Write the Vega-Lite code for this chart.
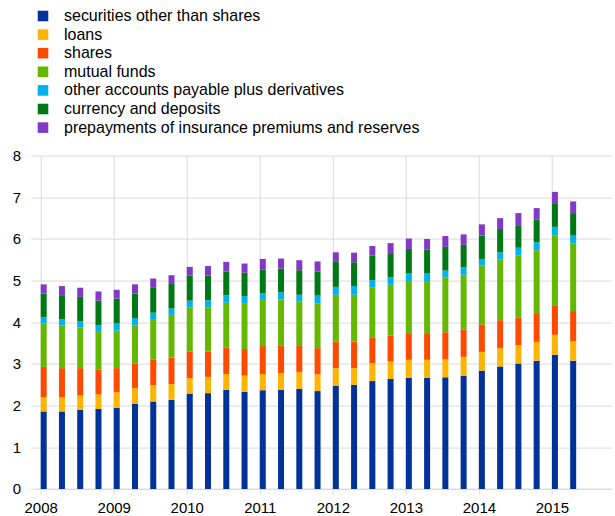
{
  "$schema": "https://vega.github.io/schema/vega-lite/v6.json",
  "autosize": {"type": "none"},
  "width": 576,
  "height": 333.4,
  "padding": {"left": 35.7, "top": 155.6, "right": 3, "bottom": 27},
  "background": "white",
  "config": {
    "view": {"stroke": null},
    "font": "Liberation Sans",
    "axis": {"labelFont": "Liberation Sans", "labelFontSize": 15, "labelColor": "#000000", "gridColor": "#d9d9d9", "gridWidth": 1, "tickColor": "#d9d9d9", "domainColor": "#d9d9d9", "title": null}
  },
  "data": {"values": [
    {"t": 2008.00, "securities other than shares": 1.86, "loans": 0.34, "shares": 0.73, "mutual funds": 1.04, "other accounts payable plus derivatives": 0.15, "currency and deposits": 0.57, "prepayments of insurance premiums and reserves": 0.22},
    {"t": 2008.25, "securities other than shares": 1.86, "loans": 0.34, "shares": 0.70, "mutual funds": 1.02, "other accounts payable plus derivatives": 0.15, "currency and deposits": 0.58, "prepayments of insurance premiums and reserves": 0.22},
    {"t": 2008.50, "securities other than shares": 1.90, "loans": 0.34, "shares": 0.66, "mutual funds": 0.97, "other accounts payable plus derivatives": 0.15, "currency and deposits": 0.59, "prepayments of insurance premiums and reserves": 0.22},
    {"t": 2008.75, "securities other than shares": 1.92, "loans": 0.35, "shares": 0.59, "mutual funds": 0.91, "other accounts payable plus derivatives": 0.16, "currency and deposits": 0.59, "prepayments of insurance premiums and reserves": 0.22},
    {"t": 2009.00, "securities other than shares": 1.95, "loans": 0.37, "shares": 0.58, "mutual funds": 0.90, "other accounts payable plus derivatives": 0.18, "currency and deposits": 0.59, "prepayments of insurance premiums and reserves": 0.21},
    {"t": 2009.25, "securities other than shares": 2.04, "loans": 0.38, "shares": 0.59, "mutual funds": 0.91, "other accounts payable plus derivatives": 0.18, "currency and deposits": 0.59, "prepayments of insurance premiums and reserves": 0.22},
    {"t": 2009.50, "securities other than shares": 2.10, "loans": 0.39, "shares": 0.61, "mutual funds": 0.96, "other accounts payable plus derivatives": 0.17, "currency and deposits": 0.61, "prepayments of insurance premiums and reserves": 0.21},
    {"t": 2009.75, "securities other than shares": 2.14, "loans": 0.38, "shares": 0.63, "mutual funds": 1.03, "other accounts payable plus derivatives": 0.15, "currency and deposits": 0.59, "prepayments of insurance premiums and reserves": 0.21},
    {"t": 2010.00, "securities other than shares": 2.29, "loans": 0.37, "shares": 0.64, "mutual funds": 1.06, "other accounts payable plus derivatives": 0.16, "currency and deposits": 0.60, "prepayments of insurance premiums and reserves": 0.21},
    {"t": 2010.25, "securities other than shares": 2.30, "loans": 0.39, "shares": 0.61, "mutual funds": 1.06, "other accounts payable plus derivatives": 0.17, "currency and deposits": 0.59, "prepayments of insurance premiums and reserves": 0.23},
    {"t": 2010.50, "securities other than shares": 2.38, "loans": 0.38, "shares": 0.63, "mutual funds": 1.08, "other accounts payable plus derivatives": 0.18, "currency and deposits": 0.57, "prepayments of insurance premiums and reserves": 0.23},
    {"t": 2010.75, "securities other than shares": 2.33, "loans": 0.39, "shares": 0.64, "mutual funds": 1.10, "other accounts payable plus derivatives": 0.17, "currency and deposits": 0.56, "prepayments of insurance premiums and reserves": 0.22},
    {"t": 2011.00, "securities other than shares": 2.37, "loans": 0.39, "shares": 0.67, "mutual funds": 1.11, "other accounts payable plus derivatives": 0.16, "currency and deposits": 0.56, "prepayments of insurance premiums and reserves": 0.26},
    {"t": 2011.25, "securities other than shares": 2.38, "loans": 0.40, "shares": 0.67, "mutual funds": 1.10, "other accounts payable plus derivatives": 0.17, "currency and deposits": 0.57, "prepayments of insurance premiums and reserves": 0.24},
    {"t": 2011.50, "securities other than shares": 2.40, "loans": 0.41, "shares": 0.62, "mutual funds": 1.07, "other accounts payable plus derivatives": 0.16, "currency and deposits": 0.59, "prepayments of insurance premiums and reserves": 0.24},
    {"t": 2011.75, "securities other than shares": 2.35, "loans": 0.40, "shares": 0.63, "mutual funds": 1.07, "other accounts payable plus derivatives": 0.19, "currency and deposits": 0.58, "prepayments of insurance premiums and reserves": 0.24},
    {"t": 2012.00, "securities other than shares": 2.48, "loans": 0.42, "shares": 0.64, "mutual funds": 1.12, "other accounts payable plus derivatives": 0.19, "currency and deposits": 0.60, "prepayments of insurance premiums and reserves": 0.23},
    {"t": 2012.25, "securities other than shares": 2.50, "loans": 0.40, "shares": 0.64, "mutual funds": 1.12, "other accounts payable plus derivatives": 0.21, "currency and deposits": 0.57, "prepayments of insurance premiums and reserves": 0.23},
    {"t": 2012.50, "securities other than shares": 2.59, "loans": 0.43, "shares": 0.62, "mutual funds": 1.20, "other accounts payable plus derivatives": 0.17, "currency and deposits": 0.59, "prepayments of insurance premiums and reserves": 0.23},
    {"t": 2012.75, "securities other than shares": 2.64, "loans": 0.42, "shares": 0.62, "mutual funds": 1.22, "other accounts payable plus derivatives": 0.18, "currency and deposits": 0.58, "prepayments of insurance premiums and reserves": 0.24},
    {"t": 2013.00, "securities other than shares": 2.67, "loans": 0.43, "shares": 0.64, "mutual funds": 1.25, "other accounts payable plus derivatives": 0.18, "currency and deposits": 0.59, "prepayments of insurance premiums and reserves": 0.25},
    {"t": 2013.25, "securities other than shares": 2.67, "loans": 0.43, "shares": 0.64, "mutual funds": 1.25, "other accounts payable plus derivatives": 0.18, "currency and deposits": 0.58, "prepayments of insurance premiums and reserves": 0.25},
    {"t": 2013.50, "securities other than shares": 2.68, "loans": 0.43, "shares": 0.65, "mutual funds": 1.31, "other accounts payable plus derivatives": 0.17, "currency and deposits": 0.57, "prepayments of insurance premiums and reserves": 0.26},
    {"t": 2013.75, "securities other than shares": 2.72, "loans": 0.45, "shares": 0.65, "mutual funds": 1.32, "other accounts payable plus derivatives": 0.18, "currency and deposits": 0.54, "prepayments of insurance premiums and reserves": 0.25},
    {"t": 2014.00, "securities other than shares": 2.84, "loans": 0.45, "shares": 0.66, "mutual funds": 1.41, "other accounts payable plus derivatives": 0.16, "currency and deposits": 0.56, "prepayments of insurance premiums and reserves": 0.27},
    {"t": 2014.25, "securities other than shares": 2.94, "loans": 0.44, "shares": 0.67, "mutual funds": 1.46, "other accounts payable plus derivatives": 0.17, "currency and deposits": 0.56, "prepayments of insurance premiums and reserves": 0.26},
    {"t": 2014.50, "securities other than shares": 3.01, "loans": 0.44, "shares": 0.67, "mutual funds": 1.48, "other accounts payable plus derivatives": 0.19, "currency and deposits": 0.54, "prepayments of insurance premiums and reserves": 0.29},
    {"t": 2014.75, "securities other than shares": 3.08, "loans": 0.45, "shares": 0.69, "mutual funds": 1.51, "other accounts payable plus derivatives": 0.19, "currency and deposits": 0.54, "prepayments of insurance premiums and reserves": 0.28},
    {"t": 2015.00, "securities other than shares": 3.22, "loans": 0.48, "shares": 0.71, "mutual funds": 1.67, "other accounts payable plus derivatives": 0.21, "currency and deposits": 0.55, "prepayments of insurance premiums and reserves": 0.29},
    {"t": 2015.25, "securities other than shares": 3.08, "loans": 0.47, "shares": 0.72, "mutual funds": 1.62, "other accounts payable plus derivatives": 0.19, "currency and deposits": 0.54, "prepayments of insurance premiums and reserves": 0.28}
  ]},
  "transform": [
    {"fold": ["securities other than shares", "loans", "shares", "mutual funds", "other accounts payable plus derivatives", "currency and deposits", "prepayments of insurance premiums and reserves"], "as": ["series", "value"]},
    {"lookup": "series", "from": {"data": {"values": [
      {"series": "securities other than shares", "k": 1},
      {"series": "loans", "k": 2},
      {"series": "shares", "k": 3},
      {"series": "mutual funds", "k": 4},
      {"series": "other accounts payable plus derivatives", "k": 5},
      {"series": "currency and deposits", "k": 6},
      {"series": "prepayments of insurance premiums and reserves", "k": 7}
    ]}, "key": "series", "fields": ["k"]}}
  ],
  "mark": {"type": "bar", "width": 6, "xOffset": 3},
  "encoding": {
    "x": {
      "field": "t", "type": "quantitative",
      "scale": {"domain": [2008, 2015.75], "nice": false, "zero": false},
      "axis": {"values": [2008, 2009, 2010, 2011, 2012, 2013, 2014, 2015], "format": "d", "grid": true, "tickSize": 5, "labelPadding": 7, "domain": true}
    },
    "y": {
      "field": "value", "type": "quantitative", "stack": "zero",
      "scale": {"domain": [0, 8], "nice": false},
      "axis": {"values": [0, 1, 2, 3, 4, 5, 6, 7, 8], "grid": true, "domain": false, "tickSize": 5, "labelPadding": 10}
    },
    "order": {"field": "k", "type": "quantitative", "sort": "ascending"},
    "color": {
      "field": "series", "type": "nominal",
      "sort": ["securities other than shares", "loans", "shares", "mutual funds", "other accounts payable plus derivatives", "currency and deposits", "prepayments of insurance premiums and reserves"],
      "scale": {
        "domain": ["securities other than shares", "loans", "shares", "mutual funds", "other accounts payable plus derivatives", "currency and deposits", "prepayments of insurance premiums and reserves"],
        "range": ["#003299", "#FFB400", "#FF4B00", "#65B800", "#00B1EA", "#007816", "#8139C6"]
      },
      "legend": {
        "title": null, "orient": "none", "legendX": -0.7, "legendY": -147.6,
        "padding": 0, "symbolType": "square", "symbolSize": 112, "symbolStrokeWidth": 0,
        "labelFont": "Liberation Sans", "labelFontSize": 16, "labelColor": "#000000",
        "labelOffset": 13, "rowPadding": 2.6, "labelLimit": 500
      }
    }
  }
}
